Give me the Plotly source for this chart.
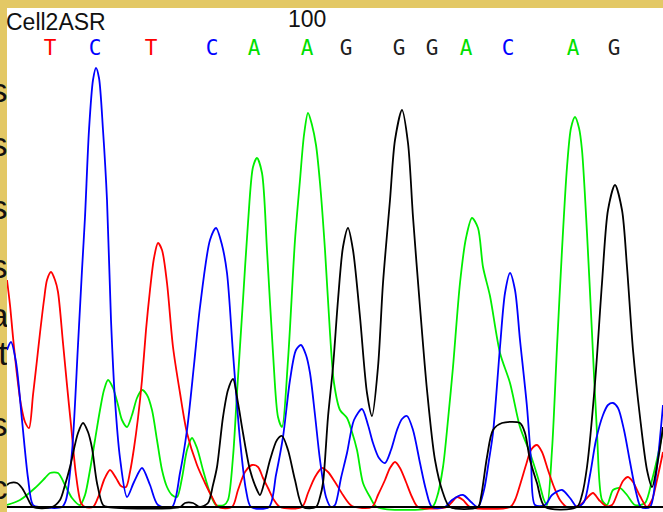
import plotly.graph_objects as go

# ---- Chromatogram data (scan position, signal) ----
red_x = [7,10,13,17,21,25,29,33,37,40,44,47,51,55,58,63,67,71,76,81,85,93,99,104,110,116,121,126,130,134,138,142,146,150,154,158,162,167,173,180,187,197,205,212,218,232,238,245,252,258,263,268,274,280,302,308,315,322,328,335,343,352,372,378,385,390,395,400,406,412,418,447,452,457,463,470,510,515,520,526,531,537,542,548,554,560,567,580,587,593,599,606,612,618,623,628,633,640,647,652,657,663]
red_y = [227,202,170,132,102,85,79,112,147,174,207,227,235,227,215,164,122,82,32,4,0,0,12,27,37,29,21,20,35,59,89,127,177,217,249,264,257,224,160,114,74,42,24,10,0,0,17,35,42,40,29,19,7,0,0,14,30,39,35,25,12,1,0,12,27,39,45,39,25,10,0,0,5,10,7,0,0,7,22,42,57,62,55,37,20,7,0,2,9,14,7,1,2,15,26,30,25,11,0,7,27,55]

blue_x = [7,11,16,22,28,33,40,62,66,72,78,82,85,89,93,96,99,103,107,111,115,120,127,134,142,150,158,172,180,187,194,200,210,216,222,227,233,240,246,251,269,276,283,290,296,301,306,310,315,320,326,331,335,341,347,354,362,368,373,379,385,391,397,402,407,413,420,426,432,445,452,463,471,478,484,489,493,500,505,510,515,520,527,531,535,545,552,562,570,577,584,590,596,603,608,613,618,624,630,636,641,650,656,663]
blue_y = [157,165,145,87,29,2,0,0,7,55,162,237,290,377,427,439,429,377,307,187,107,49,10,25,39,22,2,0,34,77,142,200,267,279,262,234,154,67,17,0,0,32,70,127,157,162,152,134,92,47,10,0,2,29,54,87,98,82,64,49,44,57,77,88,91,77,44,17,0,0,7,12,5,0,17,47,74,160,214,234,217,167,100,47,2,2,12,17,9,0,5,32,67,92,102,104,99,77,45,15,0,0,32,102]

green_x = [7,20,35,45,50,58,65,72,80,85,90,95,100,104,108,113,118,122,127,132,137,142,147,152,157,162,167,172,177,182,187,192,197,203,210,216,224,228,233,237,243,248,253,257,262,267,273,278,282,288,295,300,304,308,312,316,320,325,330,334,340,347,352,357,363,370,377,432,437,443,448,453,460,466,472,478,483,490,500,510,520,530,538,544,547,552,557,562,567,571,575,579,582,587,592,597,602,607,613,620,627,635,645,652,658,663]
green_y = [2,7,19,29,34,34,22,9,2,12,37,67,97,117,127,119,102,87,80,92,109,117,112,97,67,37,20,12,10,29,57,69,59,37,14,2,2,7,50,114,207,284,340,349,334,257,154,90,80,147,267,327,372,394,382,362,324,257,174,124,97,89,75,57,24,10,0,0,10,40,87,140,224,269,289,279,240,211,154,124,80,54,29,7,2,57,160,257,340,379,390,379,357,274,174,74,7,2,17,19,12,2,4,27,52,77]

black_x = [7,10,17,22,27,33,52,60,65,70,78,83,88,92,97,103,108,180,185,193,200,208,213,217,223,228,233,238,243,250,257,260,265,270,277,282,288,295,303,316,320,323,328,333,338,343,348,353,360,367,372,378,383,390,395,402,408,413,420,427,435,443,450,478,481,487,493,502,520,525,530,537,545,577,582,587,595,602,608,615,622,627,633,640,647,652,658,663]
black_y = [22,24,24,19,10,0,0,7,22,40,74,84,75,59,24,2,0,0,4,4,0,4,22,40,90,117,128,104,74,37,17,12,27,47,67,71,57,27,0,0,10,24,90,140,207,260,279,257,190,114,91,140,224,307,367,397,364,290,200,117,47,14,0,0,10,50,77,84,84,74,47,24,0,0,12,40,124,224,297,322,297,240,157,90,37,20,47,80]

# ---- Base calls ----
bases = ["T", "C", "T", "C", "A", "A", "G", "G", "G", "A", "C", "A", "G"]
base_pos = [50, 95, 151, 212, 254, 307, 346, 399, 432, 466, 508, 573, 614]
base_colors = {"T": "#ff0000", "C": "#0000ff", "A": "#00e000", "G": "#202020"}

sample_name = "Cell2ASR"
pos_label = "100"
pos_label_x = 307

# ---- Fragments of slide text visible at the left edge ----
edge_chars = ["s", "s", "s", "s", "a", "t", "s", "c"]
edge_y = [93, 147, 210, 269, 318, 356, 427, 490]
edge_x = [-1, -1, -1, -1, -1, 3, -1, -1]

YELLOW = "#e3c865"
MONO = "DejaVu Sans Mono, Liberation Mono, monospace"

fig = go.Figure()

for xs, ys, col in [(green_x, green_y, "#00ee00"), (red_x, red_y, "#ff0000"),
                    (blue_x, blue_y, "#0000ff"), (black_x, black_y, "#000000")]:
    fig.add_trace(go.Scatter(x=xs, y=ys, mode="lines",
                             line=dict(color=col, width=1.8, shape="spline", smoothing=0.8),
                             hoverinfo="skip", showlegend=False))

fig.add_trace(go.Scatter(x=base_pos, y=[457] * len(base_pos), mode="text", text=bases,
                         textposition="middle center",
                         textfont=dict(family=MONO, size=21,
                                       color=[base_colors[b] for b in bases]),
                         hoverinfo="skip", showlegend=False, cliponaxis=False))

fig.add_trace(go.Scatter(x=edge_x, y=edge_y, mode="text", text=edge_chars,
                         textposition="middle center",
                         textfont=dict(family="Liberation Sans, Arial", size=34, color="#111111"),
                         hoverinfo="skip", showlegend=False, cliponaxis=True,
                         xaxis="x2", yaxis="y2"))

fig.add_annotation(x=7 / 663, y=(512 - 22) / 512, xref="paper", yref="paper",
                   text=sample_name, showarrow=False, xshift=-3,
                   xanchor="left", yanchor="middle",
                   font=dict(family="Liberation Sans, Arial", size=23, color="#111111"))
fig.add_annotation(x=pos_label_x, y=488, xref="x", yref="y", text=pos_label, showarrow=False,
                   xanchor="center", yanchor="middle",
                   font=dict(family="Liberation Sans, Arial", size=23, color="#111111"))

# white plotting panel and baseline
fig.add_shape(type="rect", xref="x domain", yref="y domain", x0=0, x1=1, y0=0, y1=1,
              fillcolor="white", line=dict(width=0), layer="below")
fig.add_shape(type="line", xref="x domain", yref="y", x0=0, x1=1, y0=0, y1=0,
              line=dict(color="#000000", width=2), layer="above")

fig.update_layout(
    width=663, height=512,
    margin=dict(l=0, r=0, t=0, b=0),
    paper_bgcolor=YELLOW, plot_bgcolor="rgba(0,0,0,0)",
    xaxis=dict(domain=[7 / 663, 1], range=[7, 663], visible=False, fixedrange=True),
    yaxis=dict(domain=[0, 504 / 512], range=[-5, 499], visible=False, fixedrange=True),
    xaxis2=dict(domain=[0, 7 / 663], range=[0, 7], visible=False, anchor="y2"),
    yaxis2=dict(domain=[0, 1], range=[512, 0], visible=False, anchor="x2"),
    showlegend=False,
)

fig.write_html("out.html")
